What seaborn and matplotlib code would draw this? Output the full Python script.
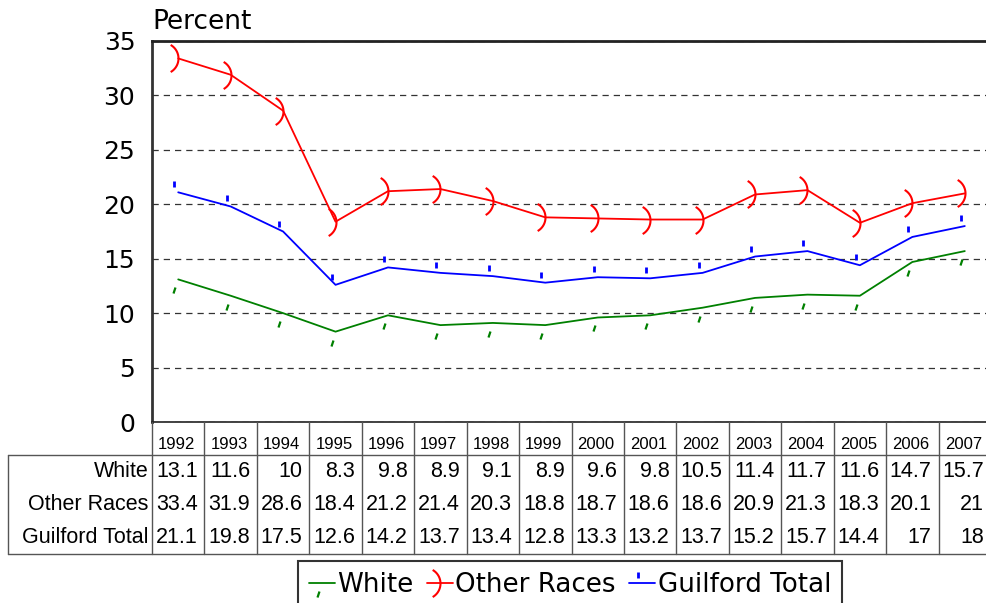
import numpy as np
import pandas as pd
import matplotlib
matplotlib.use("Agg")
import matplotlib.pyplot as plt
from matplotlib.path import Path
from matplotlib.lines import Line2D
import seaborn as sns

years = list(range(1992, 2008))
white = [13.1, 11.6, 10, 8.3, 9.8, 8.9, 9.1, 8.9, 9.6, 9.8, 10.5, 11.4, 11.7, 11.6, 14.7, 15.7]
other_races = [33.4, 31.9, 28.6, 18.4, 21.2, 21.4, 20.3, 18.8, 18.7, 18.6, 18.6, 20.9, 21.3, 18.3, 20.1, 21]
guilford_total = [21.1, 19.8, 17.5, 12.6, 14.2, 13.7, 13.4, 12.8, 13.3, 13.2, 13.7, 15.2, 15.7, 14.4, 17, 18]
series_names = ["White", "Other Races", "Guilford Total"]
series_values = [white, other_races, guilford_total]
series_colors = ["#008000", "#ff0000", "#0000ff"]

df = pd.DataFrame({"Year": years * 3,
                   "Percent": white + other_races + guilford_total,
                   "Group": sum([[n] * len(years) for n in series_names], [])})

sns.set_style("white")
plt.rcParams["font.family"] = ["Liberation Sans", "DejaVu Sans"]
plt.rcParams["text.color"] = "black"
plt.rcParams["ytick.color"] = "black"
plt.rcParams["ytick.labelcolor"] = "black"
wide = "DejaVu Sans"

# Excel-like marker glyphs
th = np.linspace(-np.pi / 3, np.pi / 3, 25)
paren = Path(np.column_stack([15 * np.cos(th) - 15, 15 * np.sin(th)]))
tick_up = Path([(-4, 5), (-4, 11)])
tick_down = Path([(-3, -8), (-5, -14)])
markers = {"White": (tick_down, 20.2, 1.6),
           "Other Races": (paren, 19.5, 1.5),
           "Guilford Total": (tick_up, 15.8, 2.0)}

W, H = 986, 603
def rect(l, t, r, b):
    return [l / W, 1 - b / H, (r - l) / W, (b - t) / H]

fig = plt.figure(figsize=(W / 100, H / 100), dpi=100)
ax = fig.add_axes(rect(152, 41, 991, 422))

for name, color in zip(series_names, series_colors):
    m, ms, mew = markers[name]
    sns.lineplot(data=df[df["Group"] == name], x="Year", y="Percent", ax=ax,
                 color=color, lw=1.3, marker=m, markersize=ms,
                 markerfacecolor="none", markeredgecolor=color,
                 markeredgewidth=mew, clip_on=False)

ax.set_xlim(years[0] - 0.5, years[-1] + 0.5)
ax.set_ylim(0, 35)
ax.set_yticks(range(0, 36, 5))
ax.set_xticks([])
ax.set_xlabel("")
ax.set_ylabel("")
ax.tick_params(axis="y", labelsize=18, length=0, pad=12, labelcolor="black")
for lbl in ax.get_yticklabels():
    lbl.set_fontfamily(wide)
ax.yaxis.grid(True, linestyle=(0, (5, 4)), color="#333333", lw=0.9)
ax.set_axisbelow(True)
ax.spines["right"].set_visible(False)
ax.spines["left"].set_color("#333333")
ax.spines["left"].set_linewidth(2)
ax.spines["top"].set_color("#222222")
ax.spines["top"].set_linewidth(2)
ax.spines["bottom"].set_color("#222222")
ax.spines["bottom"].set_linewidth(1.2)
fig.text(152 / W, 1 - 29 / H, "Percent", fontsize=19, family=wide,
         ha="left", va="baseline")

# Data table below the plot
label_w = (152 - 8) / ((991 - 152) / len(years))
x0 = years[0] - 0.5
xl = x0 - label_w
xr = years[-1] + 0.5
axt = fig.add_axes(rect(8, 422, 991, 554))
axt.set_xlim(xl, xr)
axt.set_ylim(4, 0)
axt.axis("off")
lc, lw = "#555555", 1.0
for y in (1, 4):
    axt.plot([xl, xr], [y, y], color=lc, lw=lw, clip_on=False)
axt.plot([xl, xl], [1, 4], color=lc, lw=lw, clip_on=False)
for i in range(len(years) + 1):
    axt.plot([x0 + i, x0 + i], [0, 4], color=lc, lw=lw, clip_on=False)
for yr in years:
    axt.text(yr - 0.03, 0.68, str(yr), ha="center", va="center", fontsize=12)
for r, (name, vals) in enumerate(zip(series_names, series_values)):
    yc = r + 1.5
    axt.text(x0 - 0.07, yc, name, ha="right", va="center", fontsize=15.5)
    for yr, v in zip(years, vals):
        axt.text(yr + 0.37, yc, f"{v:g}", ha="right", va="center", fontsize=15.5)

# Legend
handles = []
for name, color in zip(series_names, series_colors):
    m, ms, mew = markers[name]
    handles.append(Line2D([], [], color=color, lw=1.3, marker=m, markersize=ms,
                          markerfacecolor="none", markeredgecolor=color,
                          markeredgewidth=mew))
leg = fig.legend(handles, series_names, loc="upper center", ncol=3,
                 bbox_to_anchor=(570 / W, 1 - 561 / H),
                 prop={"family": wide, "size": 18.8},
                 frameon=True, fancybox=False, edgecolor="black",
                 handlelength=1.0, handletextpad=0.1, columnspacing=0.5,
                 borderpad=0.42, borderaxespad=0)
leg.get_frame().set_linewidth(1.5)

fig.savefig("out.png", dpi=100)
